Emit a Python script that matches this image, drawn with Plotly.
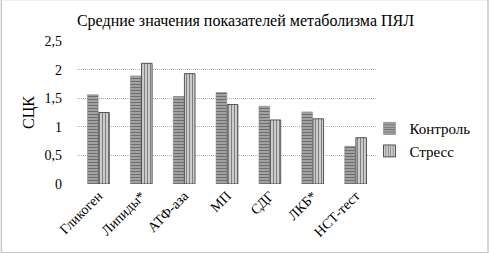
import plotly.graph_objects as go

categories = ["Гликоген", "Липиды*", "АТФ-аза", "МП", "СДГ", "ЛКБ*", "НСТ-тест"]
control = [1.56, 1.89, 1.53, 1.60, 1.36, 1.26, 0.66]
stress = [1.25, 2.11, 1.93, 1.39, 1.12, 1.14, 0.81]
yticks = [0, 0.5, 1, 1.5, 2, 2.5]
yticklabels = ["0", "0,5", "1", "1,5", "2", "2,5"]

font = "'Times New Roman', 'Liberation Serif', 'DejaVu Serif', serif"

fig = go.Figure()
fig.add_trace(go.Bar(
    x=categories, y=control, name="Контроль",
    marker=dict(color="#8a8a8a", line=dict(color="#777", width=0.5),
                pattern=dict(shape="-", fgcolor="#2e2e2e", bgcolor="#adadad", size=3, solidity=0.45)),
))
fig.add_trace(go.Bar(
    x=categories, y=stress, name="Стресс",
    marker=dict(color="white", line=dict(color="#333", width=0.8),
                pattern=dict(shape="|", fgcolor="black", bgcolor="white", size=3, solidity=0.6)),
))

fig.update_layout(
    width=491, height=253,
    margin=dict(l=77, r=114, t=41, b=69),
    paper_bgcolor="white", plot_bgcolor="white",
    barmode="group", bargap=0.48, bargroupgap=0.05,
    font=dict(family=font, color="black", size=13),
    title=dict(text="Средние значения показателей метаболизма ПЯЛ", x=0.5, xref="container",
               xanchor="center", y=0.92, yanchor="middle", font=dict(size=16, family=font)),
    legend=dict(x=0.975, y=0.31, xanchor="left", yanchor="middle",
                font=dict(size=15, family=font), itemwidth=30, tracegroupgap=0,
                bgcolor="rgba(0,0,0,0)"),
    showlegend=True,
    shapes=[dict(type="rect", xref="paper", yref="paper",
                 x0=-0.252, x1=1.37, y0=-0.48, y1=1.29,
                 line=dict(color="#c8c8c8", width=1.5))],
)
fig.update_xaxes(tickangle=-45, tickfont=dict(size=14, family=font), showline=False,
                 ticks="", showgrid=False, automargin=False)
fig.update_yaxes(range=[0, 2.5], tickvals=yticks, ticktext=yticklabels,
                 showgrid=True, gridcolor="#b0b0b0", griddash="1px,1px", gridwidth=1,
                 zeroline=False, automargin=False, ticklabelstandoff=14,
                 tickfont=dict(size=14, family=font), ticklen=0, ticks="",
                 title=dict(text="СЦК", font=dict(size=16, family=font), standoff=5))

fig.write_html("out.html", config={"displayModeBar": False},
               post_script="document.body.style.margin='0';")
